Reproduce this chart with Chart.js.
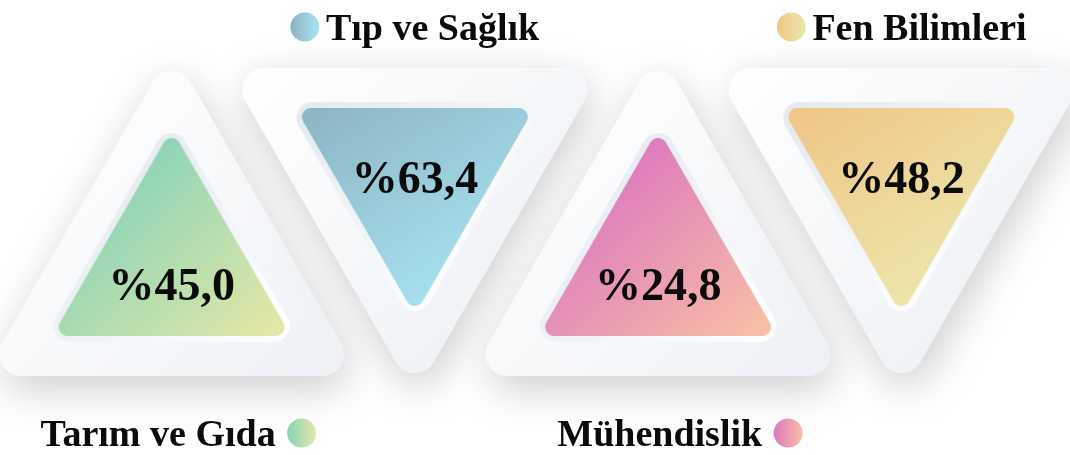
<!DOCTYPE html>
<html>
<head>
<meta charset="utf-8">
<script src="https://cdn.jsdelivr.net/npm/chart.js@4/dist/chart.umd.min.js"></script>
<style>
  html, body { margin: 0; padding: 0; background: #ffffff; }
  canvas { display: block; }
</style>
</head>
<body>
<canvas id="chart" width="1070" height="455"></canvas>
<script>
const categories = ['Tarım ve Gıda', 'Tıp ve Sağlık', 'Mühendislik', 'Fen Bilimleri'];
const shares = [45.0, 63.4, 24.8, 48.2];
const directions = ['up', 'down', 'up', 'down'];

const colorFrom = ['#86d3ba', '#8cb3c2', '#dc76c0', '#f0c584'];
const colorTo = ['#e4e8a6', '#a9e4f4', '#f9c0a5', '#ece8ae'];

const FONT = '"Liberation Serif", "DejaVu Serif", serif';

function triPath(ctx, cx, cy, R, dir, r) {
  const s = dir === 'up' ? 1 : -1;
  const h = R * 0.8660254;
  const p = [[cx, cy - s * R], [cx + h, cy + s * R / 2], [cx - h, cy + s * R / 2]];
  ctx.beginPath();
  ctx.moveTo((p[0][0] + p[1][0]) / 2, (p[0][1] + p[1][1]) / 2);
  ctx.arcTo(p[1][0], p[1][1], p[2][0], p[2][1], r);
  ctx.arcTo(p[2][0], p[2][1], p[0][0], p[0][1], r);
  ctx.arcTo(p[0][0], p[0][1], p[1][0], p[1][1], r);
  ctx.closePath();
}

// big white plate behind each coloured triangle
function outerImage(dir) {
  const R = 218, size = 2 * (R + 75);
  const c = document.createElement('canvas');
  c.width = c.height = size;
  const ctx = c.getContext('2d');
  const m = size / 2;
  ctx.shadowColor = 'rgba(0,0,0,0.2)';
  ctx.shadowBlur = 42;
  ctx.shadowOffsetX = 4;
  ctx.shadowOffsetY = 12;
  const g = ctx.createLinearGradient(m - R * 0.7, m - R * 0.7, m + R * 0.7, m + R * 0.7);
  g.addColorStop(0, '#ffffff');
  g.addColorStop(1, '#edf1f5');
  ctx.fillStyle = g;
  triPath(ctx, m, m, R, dir, 22);
  ctx.fill();
  return c;
}

// coloured triangle with its pale rim
function innerImage(i) {
  const dir = directions[i];
  const R = 138, Rr = 150, size = 2 * (Rr + 8);
  const c = document.createElement('canvas');
  c.width = c.height = size;
  const ctx = c.getContext('2d');
  const m = size / 2;

  const gr = ctx.createLinearGradient(m - Rr * 0.6, m - Rr * 0.6, m + Rr * 0.6, m + Rr * 0.6);
  gr.addColorStop(0, '#e4eaef');
  gr.addColorStop(1, '#ffffff');
  ctx.fillStyle = gr;
  triPath(ctx, m, m, Rr, dir, 16);
  ctx.fill();

  const g = dir === 'up'
    ? ctx.createLinearGradient(m - R * 0.45, m - R * 0.75, m + R * 0.75, m + R * 0.5)
    : ctx.createLinearGradient(m - R * 0.8, m - R * 0.55, m + R * 0.2, m + R);
  g.addColorStop(0, colorFrom[i]);
  g.addColorStop(1, colorTo[i]);
  ctx.fillStyle = g;
  triPath(ctx, m, m, R, dir, 9);
  ctx.fill();
  return c;
}

const points = categories.map((c, i) => ({ x: c, y: directions[i] === 'up' ? 0 : 1 }));
const innerImgs = categories.map((c, i) => innerImage(i));
const outerImgs = directions.map(d => outerImage(d));

const textPlugin = {
  id: 'triangleText',
  afterDatasetsDraw(chart) {
    const ctx = chart.ctx;
    const meta = chart.getDatasetMeta(0);
    ctx.save();
    meta.data.forEach((pt, i) => {
      const up = directions[i] === 'up';
      // percentage
      ctx.fillStyle = '#0b0b0b';
      ctx.font = 'bold 46px ' + FONT;
      ctx.textAlign = 'center';
      ctx.textBaseline = 'alphabetic';
      const txt = '%' + shares[i].toFixed(1).replace('.', ',');
      ctx.fillText(txt, pt.x, pt.y + (up ? 33 : 16));

      // category label with round marker
      ctx.font = 'bold 38px ' + FONT;
      let cx, cy, tx, ty;
      if (up) {
        cx = pt.x + 130; cy = 433;
        tx = cx - 26; ty = 446;
        ctx.textAlign = 'right';
      } else {
        cx = pt.x - 110; cy = 27;
        tx = cx + 21; ty = 40;
        ctx.textAlign = 'left';
      }
      ctx.fillText(categories[i], tx, ty);

      const g = ctx.createLinearGradient(cx - 15, cy, cx + 15, cy);
      g.addColorStop(0, colorFrom[i]);
      g.addColorStop(1, colorTo[i]);
      ctx.beginPath();
      ctx.arc(cx, cy, 16, 0, Math.PI * 2);
      ctx.fillStyle = '#ffffff';
      ctx.fill();
      ctx.beginPath();
      ctx.arc(cx, cy, 14.5, 0, Math.PI * 2);
      ctx.fillStyle = g;
      ctx.fill();
    });
    ctx.restore();
  }
};

new Chart(document.getElementById('chart'), {
  type: 'scatter',
  data: {
    labels: categories,
    datasets: [
      { label: 'inner', data: points, pointStyle: innerImgs, pointRadius: 10, order: 1, clip: false },
      { label: 'outer', data: points, pointStyle: outerImgs, pointRadius: 10, order: 2, clip: false }
    ]
  },
  options: {
    responsive: false,
    animation: false,
    events: [],
    layout: { padding: { left: 50, right: 47, top: 177, bottom: 188 } },
    scales: {
      x: { type: 'category', labels: categories, offset: true, display: false },
      y: { type: 'linear', min: 0, max: 1, display: false }
    },
    plugins: {
      legend: { display: false },
      tooltip: { enabled: false }
    }
  },
  plugins: [textPlugin]
});
</script>
</body>
</html>
